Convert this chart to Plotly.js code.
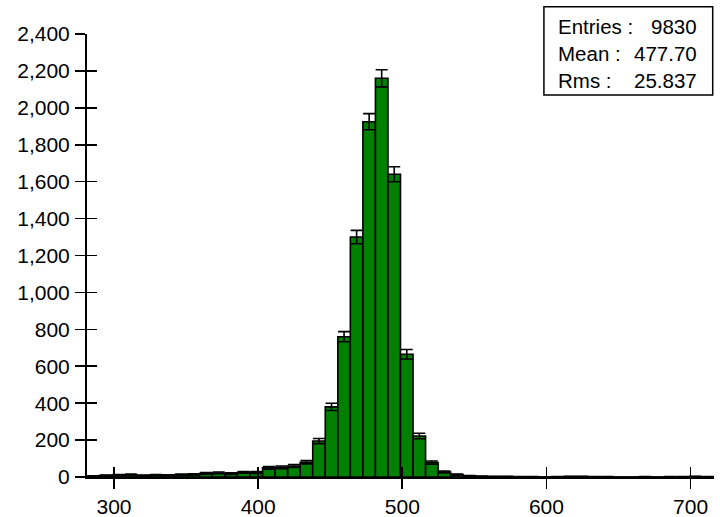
<!DOCTYPE html>
<html>
<head>
<meta charset="utf-8">
<script src="https://cdn.plot.ly/plotly-3.0.1.min.js"></script>
<style>html,body{margin:0;padding:0;background:#fff;}#chart{width:720px;height:517px;}</style>
</head>
<body>
<div id="chart"></div>
<script>
// Histogram binning (50 equal bins)
const binStart = 281.25;
const binWidth = 8.7;
// Counts per bin
const counts = [
  4, 8, 10, 12, 8, 10, 9, 12, 14, 20,
  22, 18, 25, 24, 50, 52, 60, 80, 195, 380,
  760, 1300, 1925, 2160, 1640, 665, 222, 78, 27, 13,
  5, 3, 2, 2, 1, 1, 0, 1, 2, 2,
  1, 1, 0, 0, 1, 0, 1, 1, 2, 1
];
// Statistics box
const statLabels = ["Entries :", "Mean :", "Rms :"];
const statValues = ["9830", "477.70", "25.837"];
// Axis ticks
const xTicks = [300, 400, 500, 600, 700];
const yTicks = [0, 200, 400, 600, 800, 1000, 1200, 1400, 1600, 1800, 2000, 2200, 2400];

const centers = counts.map((_, i) => binStart + (i + 0.5) * binWidth);
const xRange = [binStart, binStart + counts.length * binWidth];
const yRange = [0, 2400];
const FONT = "Liberation Sans, Arial, sans-serif";
const TICKSIZE = 21;
const BOXSIZE = 20.5;

const traces = [
  {
    type: "bar",
    x: centers,
    y: counts,
    width: binWidth,
    marker: { color: "#008000", line: { color: "#000", width: 1.6 } },
    error_y: { type: "sqrt", visible: true, color: "#000", thickness: 1.6, width: 6 },
    hoverinfo: "x+y"
  },
  { type: "scatter", x: [], y: [], xaxis: "x2", yaxis: "y2", showlegend: false, hoverinfo: "skip" }
];

const annotations = [];
statLabels.forEach((t, i) => {
  const yy = 1 - ((26.7 + 26.7 * i) - 34) / 443.3;
  annotations.push({
    xref: "paper", yref: "paper", x: (556 - 87.3) / 626.7, y: yy,
    xanchor: "left", yanchor: "middle", text: t, showarrow: false,
    font: { family: FONT, size: BOXSIZE, color: "#000" }
  });
  annotations.push({
    xref: "paper", yref: "paper", x: (699 - 87.3) / 626.7, y: yy,
    xanchor: "right", yanchor: "middle", text: statValues[i], showarrow: false,
    font: { family: FONT, size: BOXSIZE, color: "#000" }
  });
});

const commonX = {
  range: xRange, tickmode: "array", tickvals: xTicks, showgrid: false, zeroline: false,
  ticklen: 10, tickwidth: 1.6, tickcolor: "#000", fixedrange: true
};
const commonY = {
  range: yRange, tickmode: "array", tickvals: yTicks, showgrid: false, zeroline: false,
  ticklen: 10, tickwidth: 1.6, tickcolor: "#000", fixedrange: true
};

const layout = {
  width: 720, height: 517,
  margin: { l: 87.3, r: 6, t: 34, b: 39.7 },
  paper_bgcolor: "#fff", plot_bgcolor: "#fff",
  showlegend: false,
  bargap: 0,
  font: { family: FONT, size: TICKSIZE, color: "#000" },
  xaxis: Object.assign({}, commonX, {
    ticks: "outside", showline: true, linecolor: "#000", linewidth: 2,
    ticklabelstandoff: 0,
    tickfont: { family: FONT, size: TICKSIZE, color: "#000" }
  }),
  yaxis: Object.assign({}, commonY, {
    ticks: "outside", showline: true, linecolor: "#000", linewidth: 2,
    tickformat: ",d", ticklabelstandoff: 1,
    tickfont: { family: FONT, size: TICKSIZE, color: "#000" }
  }),
  xaxis2: Object.assign({}, commonX, {
    overlaying: "x", side: "bottom", anchor: "y2", ticks: "inside", showticklabels: false, showline: false
  }),
  yaxis2: Object.assign({}, commonY, {
    overlaying: "y", side: "left", anchor: "x2", ticks: "inside", showticklabels: false, showline: false
  }),
  shapes: [{
    type: "rect", xref: "paper", yref: "paper",
    x0: (544 - 87.3) / 626.7, x1: (712.7 - 87.3) / 626.7,
    y0: 1 - (95 - 34) / 443.3, y1: 1 - (6.7 - 34) / 443.3,
    line: { color: "#000", width: 1.5 }, fillcolor: "rgba(255,255,255,1)", layer: "above"
  }],
  annotations: annotations
};

Plotly.newPlot("chart", traces, layout, { displayModeBar: false, staticPlot: true });
</script>
</body>
</html>
